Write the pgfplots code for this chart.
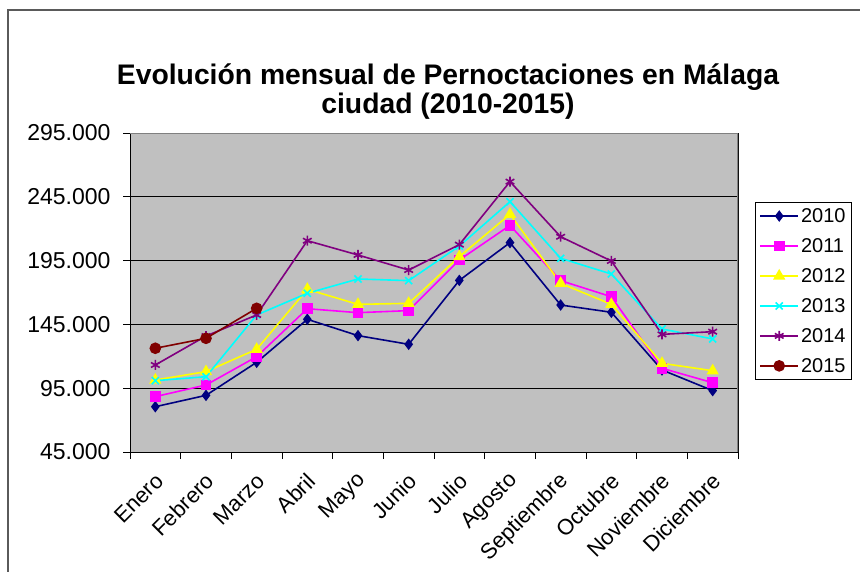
\documentclass[border=0pt]{standalone}
\usepackage{pgfplots}
\pgfplotsset{compat=1.18}
\usepackage{fontspec}
\setmainfont{Liberation Sans}
\definecolor{bgc}{RGB}{192,192,192}
\definecolor{c10}{RGB}{0,0,128}
\definecolor{c11}{RGB}{255,0,255}
\definecolor{c12}{RGB}{255,255,0}
\definecolor{c13}{RGB}{0,255,255}
\definecolor{c14}{RGB}{128,0,128}
\definecolor{c15}{RGB}{128,0,0}
\definecolor{frmc}{RGB}{90,90,90}
\begin{document}
\begin{tikzpicture}[x=1pt,y=1pt]
\useasboundingbox (0,0) rectangle (860,571);
\clip (0,0) rectangle (860,571);
\draw[frmc, line width=1.3pt] (8,-20) -- (8,561) -- (880,561);
\node[align=center, font=\fontsize{28.3}{29}\selectfont\bfseries] at (448,479)
  {Evolución mensual de Pernoctaciones en Málaga\\ciudad (2010-2015)};
\begin{axis}[
  at={(130pt,119pt)}, anchor=south west,
  scale only axis, width=608pt, height=319pt,
  xmin=-0.5, xmax=11.5, ymin=45000, ymax=295000,
  ytick={45000,95000,145000,195000,245000,295000},
  xtick={-0.5,0.5,...,11.5},
  x tick label as interval,
  xticklabels={Enero,Febrero,Marzo,Abril,Mayo,Junio,Julio,Agosto,Septiembre,Octubre,Noviembre,Diciembre},
  tick pos=left, tick align=outside, major tick length=7pt,
  tick style={black, line width=0.8pt},
  ymajorgrids, grid style={black, line width=0.9pt},
  axis background/.style={fill=bgc},
  axis line style={black, line width=1pt},
  scaled y ticks=false,
  /pgf/number format/.cd, fixed, precision=0, 1000 sep={.}, assume math mode=true,
  /pgfplots/.cd,
  yticklabel style={font=\fontsize{23}{23}\selectfont, anchor=east, xshift=-9pt},
  xticklabel style={font=\fontsize{22}{22}\selectfont, rotate=45, anchor=east, xshift=-6.7pt, yshift=-16pt},
  legend style={at={(1.028,0.784)}, anchor=north west, draw=black, line width=0.8pt,
    font=\fontsize{20}{20}\selectfont, row sep=10.5pt, inner sep=4pt, cells={anchor=west}},
  legend image code/.code={\draw[mark repeat=2,mark phase=2] plot coordinates {(0pt,0pt) (19pt,0pt) (38pt,0pt)};},
  every axis plot/.append style={line width=1.6pt},
]
\addplot[c10, mark=diamond*, mark size=4.5pt] coordinates {
(0,80500) (1,89400) (2,115300) (3,149000) (4,136200) (5,129400)
(6,179500) (7,209100) (8,160200) (9,154500) (10,109300) (11,93100)};
\addlegendentry{2010}
\addplot[c11, mark=square*, mark size=4.5pt] coordinates {
(0,88400) (1,97500) (2,119700) (3,157300) (4,154200) (5,155800)
(6,195500) (7,222600) (8,179300) (9,166700) (10,110600) (11,99300)};
\addlegendentry{2011}
\addplot[c12, mark=triangle*, mark size=5.5pt] coordinates {
(0,101400) (1,108000) (2,125500) (3,172500) (4,160700) (5,161500)
(6,198100) (7,231300) (8,177200) (9,160700) (10,114500) (11,108700)};
\addlegendentry{2012}
\addplot[c13, mark=x, mark size=5pt] coordinates {
(0,100900) (1,104000) (2,152400) (3,169400) (4,180600) (5,179300)
(6,206400) (7,241200) (8,196800) (9,184500) (10,141400) (11,133600)};
\addlegendentry{2013}
\addplot[c14, mark=asterisk, mark size=5pt] coordinates {
(0,113200) (1,135900) (2,152400) (3,210600) (4,199400) (5,187600)
(6,207500) (7,256900) (8,213700) (9,194700) (10,137200) (11,139300)};
\addlegendentry{2014}
\addplot[c15, mark=*, mark size=5pt] coordinates {
(0,126300) (1,134100) (2,157600)};
\addlegendentry{2015}
\draw[gray, line width=1.2pt] (rel axis cs:0,1) -- (rel axis cs:1,1) -- (rel axis cs:1,0);
\end{axis}
\end{tikzpicture}
\end{document}
